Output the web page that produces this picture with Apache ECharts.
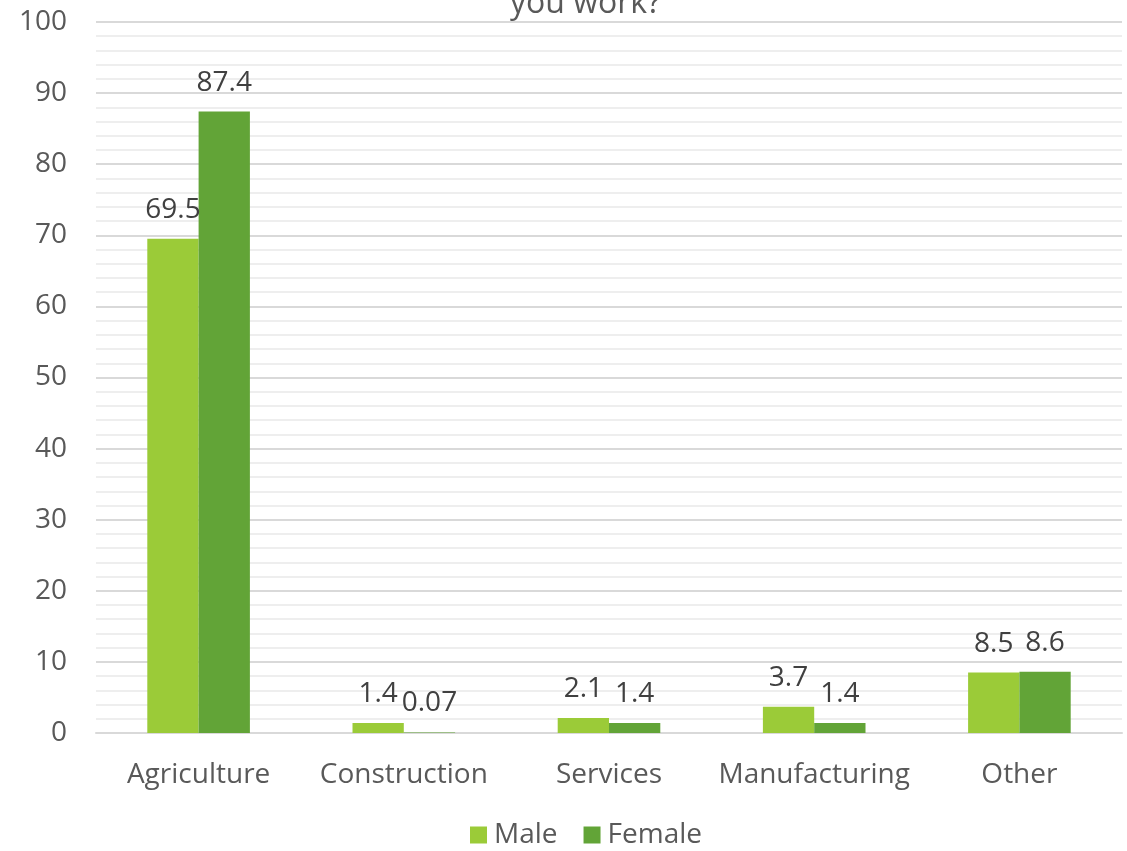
<!DOCTYPE html>
<html><head><meta charset="utf-8">
<script src="https://cdn.jsdelivr.net/npm/echarts@6/dist/echarts.min.js"></script>
<style>html,body{margin:0;padding:0;background:#fff}#c{width:1127px;height:851px}</style>
</head><body><div id="c"></div>
<script>
const categories = ["Agriculture", "Construction", "Services", "Manufacturing", "Other"];
const male = [69.5, 1.4, 2.1, 3.7, 8.5];
const female = [87.4, 0.07, 1.4, 1.4, 8.6];
const seriesNames = ["Male", "Female"];
const titleText = "you work?";

const chart = echarts.init(document.getElementById('c'));
const font = '"Open Sans", sans-serif';
const lbl = {show: true, position: 'top', fontFamily: font, fontSize: 28, color: '#404040', distance: 15};
chart.setOption({
  animation: false,
  textStyle: {fontFamily: font},
  title: {text: titleText, left: 505, top: -17, textStyle: {fontFamily: font, fontSize: 32, fontWeight: 'normal', color: '#595959'}},
  grid: {left: 96, right: 5, top: 22, bottom: 118},
  legend: {data: seriesNames, top: 816, left: 465, itemWidth: 17, itemHeight: 17, itemGap: 26, icon: 'rect',
    textStyle: {fontFamily: font, fontSize: 28, color: '#595959', padding: [0, 0, 0, 2]}},
  xAxis: {type: 'category', data: categories,
    axisLine: {lineStyle: {color: '#D9D9D9', width: 2}}, axisTick: {show: false},
    axisLabel: {fontFamily: font, fontSize: 28, color: '#595959', margin: 28, interval: 0}},
  yAxis: {type: 'value', min: 0, max: 100, interval: 10,
    axisLine: {show: false}, axisTick: {show: false},
    axisLabel: {fontFamily: font, fontSize: 28, color: '#595959', margin: 29},
    splitLine: {lineStyle: {color: '#D9D9D9', width: 2}},
    minorTick: {show: false, splitNumber: 5},
    minorSplitLine: {show: true, lineStyle: {color: '#EEEEEE', width: 2}}},
  series: [
    {name: seriesNames[0], type: 'bar', data: male, barGap: '0%', barCategoryGap: '50%', itemStyle: {color: '#9BCB38'}, label: lbl},
    {name: seriesNames[1], type: 'bar', data: female, itemStyle: {color: '#62A437'}, label: lbl}
  ]
});
</script></body></html>
